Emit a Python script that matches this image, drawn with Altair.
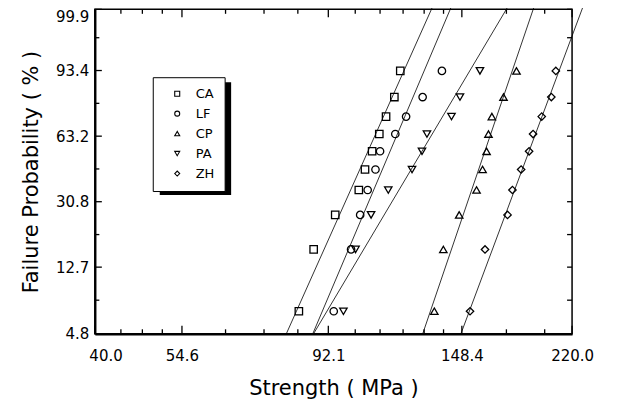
import math
import altair as alt
import pandas as pd

# ---- data ----
series = ["CA", "LF", "CP", "PA", "ZH"]
shapes = ["square", "circle", "triangle-up", "triangle-down", "diamond"]
fail_prob = [6.7, 16.3, 26.0, 35.6, 45.2, 54.8, 64.4, 74.0, 83.7, 93.3]
strength_CA = [82.9, 87.4, 94.4, 102.7, 105.0, 107.7, 110.5, 113.2, 116.6, 119.1]
strength_LF = [93.9, 99.9, 103.2, 106.0, 109.0, 110.8, 117.0, 121.6, 129.0, 138.2]
strength_CP = [134.5, 138.9, 147.0, 156.4, 159.8, 162.1, 163.2, 165.2, 172.2, 180.4]
strength_PA = [97.2, 101.5, 107.3, 114.1, 124.2, 128.7, 131.0, 143.0, 147.4, 158.3]
strength_ZH = [152.8, 161.2, 174.7, 177.8, 183.4, 188.7, 191.4, 197.4, 204.3, 207.6]
weibull_m = [9.54, 10.07, 12.53, 7.18, 11.43]
weibull_s0 = [108.7, 117.5, 164.1, 132.9, 192.5]
x_ticks = [40.0, 54.6, 92.1, 148.4, 220.0]
x_minor = [43.9, 47.4, 50.9, 63.8, 73.2, 82.6, 101.4, 110.8, 120.3, 129.7, 139.0, 174.0, 199.5]
y_ticks = [4.8, 12.7, 30.8, 63.2, 93.4, 99.9]


def wb(p):
    return math.log(-math.log(1 - p / 100.0))


y_major = [wb(p) for p in y_ticks]
y_minor = [-2.5, -1.5, -0.5, 0.5, 1.5]
y_lo, y_hi = y_major[0], y_major[-1]

strengths = {"CA": strength_CA, "LF": strength_LF, "CP": strength_CP,
             "PA": strength_PA, "ZH": strength_ZH}
pts = pd.DataFrame([
    {"series": s, "F": f, "S": v}
    for s in series for f, v in zip(fail_prob, strengths[s])
])

line_rows = []
for s, m, s0 in zip(series, weibull_m, weibull_s0):
    for w in (y_lo, y_hi + 0.14):
        line_rows.append({"series": s, "w": w, "S": s0 * math.exp(w / m)})
lines = pd.DataFrame(line_rows)

W, H = 478, 325
FONT = "DejaVu Sans"

xs = alt.Scale(type="log", domain=[40, 220], nice=False, zero=False)
ys = alt.Scale(domain=[y_lo, y_hi], nice=False, zero=False)
x_axis = alt.Axis(values=x_ticks, format=".1f", title="Strength ( MPa )",
                  ticks=False, grid=False, labelPadding=15, titlePadding=14,
                  labelFlush=False,
                  labelAlign={"condition": {"test": "datum.value < 45", "value": "left"},
                              "value": "center"},
                  labelOffset={"condition": {"test": "datum.value < 45", "value": -6},
                               "value": 0})
y_axis = alt.Axis(values=y_major, title="Failure Probability ( % )",
                  labelExpr="format(100*(1-exp(-exp(datum.value))), '.1f')",
                  ticks=False, grid=False, labelPadding=6, titlePadding=14,
                  labelBaseline={"condition": {"test": "datum.value > 1.9", "value": "top"},
                                 "value": "middle"})

points = alt.Chart(pts).transform_calculate(
    w="log(-log(1 - datum.F/100))"
).mark_point(filled=False, color="black", size=55, strokeWidth=1.3, opacity=1).encode(
    x=alt.X("S:Q", scale=xs, axis=x_axis),
    y=alt.Y("w:Q", scale=ys, axis=y_axis),
    shape=alt.Shape("series:N",
                    scale=alt.Scale(domain=series, range=shapes),
                    legend=alt.Legend(title=None, orient="none", legendX=58, legendY=68,
                                      strokeColor="black", fillColor="white", padding=10,
                                      symbolSize=25, symbolStrokeWidth=1.1,
                                      symbolStrokeColor="black", symbolOffset=8,
                                      labelOffset=12, labelFontSize=13, labelFont=FONT,
                                      rowPadding=6)),
)

fit = alt.Chart(lines).mark_line(color="black", strokeWidth=0.8, clip=False).encode(
    x=alt.X("S:Q", scale=xs, axis=x_axis),
    y=alt.Y("w:Q", scale=ys, axis=y_axis),
    detail="series:N",
)

shadow = alt.Chart(pd.DataFrame({"a": [0]})).mark_rect(color="black").encode(
    x=alt.value(65), x2=alt.value(136.5), y=alt.value(73), y2=alt.value(186)
)

xmaj = pd.DataFrame({"S": x_ticks})
xmin = pd.DataFrame({"S": x_minor})
ymaj = pd.DataFrame({"w": y_major})
ymin = pd.DataFrame({"w": y_minor})
yall = pd.DataFrame({"w": y_major + y_minor})


def xrule(df, y1, y2):
    return alt.Chart(df).mark_rule(color="black", strokeWidth=1.3).encode(
        x=alt.X("S:Q", scale=xs, axis=x_axis), y=alt.value(y1), y2=alt.value(y2))


def yrule(df, x1, x2):
    return alt.Chart(df).mark_rule(color="black", strokeWidth=1.3).encode(
        y=alt.Y("w:Q", scale=ys, axis=y_axis), x=alt.value(x1), x2=alt.value(x2))


ticks = [
    xrule(xmaj, H, H - 8), xrule(xmin, H, H - 4.5),
    xrule(xmaj, 0, 8), xrule(xmin, 0, 4.5),
    yrule(ymaj, 0, 7), yrule(ymin, 0, 4.5),
    yrule(yall, W, W - 5),
]

chart = alt.layer(points, shadow, fit, *ticks).properties(
    width=W, height=H,
    autosize=alt.AutoSizeParams(type="none"),
    padding={"left": 87, "top": 1, "right": 40, "bottom": 68},
).configure_view(
    stroke="black", strokeWidth=1.5
).configure_axis(
    domainColor="black", domainWidth=2.2, labelColor="black", titleColor="black",
    labelFont=FONT, titleFont=FONT, labelFontSize=15, titleFontSize=21,
    titleFontWeight="normal",
)

chart.save("out.html", embed_options={"renderer": "svg", "actions": False})
